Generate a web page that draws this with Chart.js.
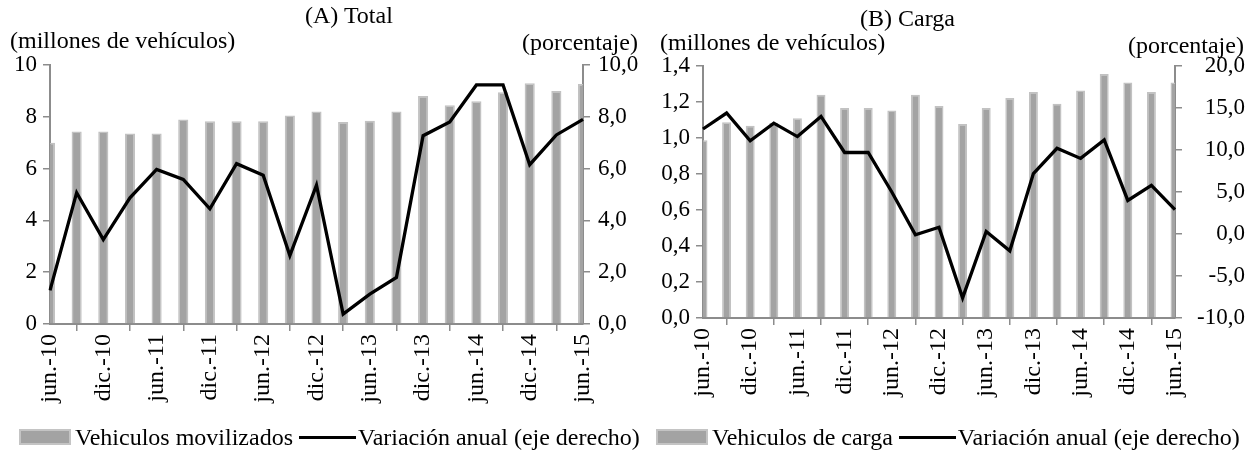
<!DOCTYPE html>
<html>
<head>
<meta charset="utf-8">
<script src="https://cdn.jsdelivr.net/npm/chart.js@4.4.1/dist/chart.umd.min.js"></script>
<style>
  body { margin: 0; background: #fff; font-family: "Liberation Serif", serif; }
  .panel { position: absolute; top: 0; height: 454px; }
  .txt { position: absolute; font-size: 24px; line-height: 24px; color: #000; white-space: nowrap; }
  .leg { position: absolute; top: 425px; font-size: 24px; line-height: 24px; white-space: nowrap; display: flex; align-items: center; }
  .box { display: inline-block; width: 52px; height: 16px; background: #a3a3a3; border: 2px solid #c4c4c4; box-sizing: border-box; margin-right: 4px; }
  .ln { display: inline-block; width: 57px; height: 3px; background: #000; margin: 0 2px 0 6px; }
</style>
</head>
<body>
<div class="panel" style="left:0;width:640px"><canvas id="g1" width="640" height="454"></canvas></div>
<div class="panel" style="left:640px;width:614px"><canvas id="g2" width="614" height="454"></canvas></div>

<div class="txt" style="left:305px;top:3px">(A) Total</div>
<div class="txt" style="left:10px;top:28px">(millones de vehículos)</div>
<div class="txt" style="left:522px;top:30px">(porcentaje)</div>
<div class="txt" style="left:860px;top:6px">(B) Carga</div>
<div class="txt" style="left:660px;top:30px">(millones de vehículos)</div>
<div class="txt" style="left:1128px;top:33px">(porcentaje)</div>

<div class="leg" style="left:19px"><span class="box"></span>Vehiculos movilizados<span class="ln"></span>Variación anual (eje derecho)</div>
<div class="leg" style="left:656px"><span class="box"></span>Vehiculos de carga<span class="ln"></span>Variación anual (eje derecho)</div>

<script>
// trimestres jun-10 .. jun-15
const trimestres = ['jun.-10','sep.-10','dic.-10','mar.-11','jun.-11','sep.-11','dic.-11','mar.-12','jun.-12','sep.-12','dic.-12','mar.-13','jun.-13','sep.-13','dic.-13','mar.-14','jun.-14','sep.-14','dic.-14','mar.-15','jun.-15'];

// (A) Total
const vehiculosTotal = [7.0, 7.43, 7.43, 7.36, 7.36, 7.9, 7.83, 7.83, 7.83, 8.05, 8.2, 7.8, 7.85, 8.2, 8.8, 8.45, 8.6, 8.95, 9.3, 9.0, 9.27];
const variacionTotal = [1.3, 5.07, 3.26, 4.87, 5.97, 5.58, 4.45, 6.19, 5.74, 2.64, 5.36, 0.38, 1.15, 1.8, 7.27, 7.8, 9.23, 9.23, 6.15, 7.3, 7.9];

// (B) Carga
const vehiculosCarga = [0.987, 1.087, 1.068, 1.083, 1.11, 1.24, 1.167, 1.167, 1.153, 1.24, 1.178, 1.078, 1.167, 1.222, 1.255, 1.19, 1.264, 1.355, 1.309, 1.255, 1.309];
const variacionCarga = [12.5, 14.4, 11.1, 13.2, 11.6, 14.0, 9.7, 9.7, 5.0, -0.1, 0.8, -7.6, 0.3, -2.0, 7.2, 10.2, 9.0, 11.2, 4.0, 5.8, 2.9];

const ejeGris = '#8c8c8c';
const fuente = { family: 'Liberation Serif', size: 23 };
const fuenteX = { family: 'Liberation Serif', size: 24 };
const coma = (d) => (v) => v.toFixed(d).replace('.', ',');

function grafico(id, barras, linea, izq, der, caja) {
  new Chart(document.getElementById(id), {
    data: {
      labels: trimestres,
      datasets: [
        { type: 'line', data: linea, yAxisID: 'y2', borderColor: '#000', borderWidth: 3.3,
          pointRadius: 0, tension: 0, order: 0 },
        { type: 'bar', data: barras, yAxisID: 'y', backgroundColor: '#a3a3a3', borderColor: '#c2c2c2',
          borderWidth: 1.5, barPercentage: 0.38, categoryPercentage: 1, order: 1 }
      ]
    },
    options: {
      responsive: false,
      animation: false,
      layout: { padding: { top: caja.top, bottom: caja.bottom, left: 0, right: caja.padR } },
      plugins: { legend: { display: false }, tooltip: { enabled: false } },
      scales: {
        x: {
          offset: false,
          border: { color: ejeGris, width: 2 },
          grid: { drawOnChartArea: false, color: ejeGris, tickLength: 7, lineWidth: 1.5 },
          ticks: {
            autoSkip: false, minRotation: 90, maxRotation: 90, color: '#000', font: fuenteX, padding: 3,
            callback: function (v, i) { return i % 2 === 0 ? this.getLabelForValue(v) : null; }
          },
          afterFit: (s) => { s.height = caja.xh; }
        },
        y: {
          position: 'left', min: izq.min, max: izq.max,
          border: { color: ejeGris, width: 2 },
          grid: { drawOnChartArea: false, color: ejeGris, tickLength: 7, lineWidth: 1.5 },
          ticks: { stepSize: izq.step, color: '#000', font: fuente, padding: 6, callback: coma(izq.dec) },
          afterFit: (s) => { s.width = caja.left; }
        },
        y2: {
          position: 'right', min: der.min, max: der.max,
          border: { color: ejeGris, width: 2 },
          grid: { drawOnChartArea: false, color: ejeGris, tickLength: 7, lineWidth: 1.5 },
          ticks: { stepSize: der.step, color: '#000', font: fuente, padding: der.pad, crossAlign: der.align,
            callback: coma(der.dec) },
          afterFit: (s) => { s.width = caja.right; }
        }
      }
    }
  });
}

grafico('g1', vehiculosTotal, variacionTotal,
  { min: 0, max: 10, step: 2, dec: 0 }, { min: 0, max: 10, step: 2, dec: 1, pad: 8, align: 'near' },
  { top: 65, bottom: 40, xh: 90, left: 50, right: 57, padR: 0 });

grafico('g2', vehiculosCarga, variacionCarga,
  { min: 0, max: 1.4, step: 0.2, dec: 1 }, { min: -10, max: 20, step: 5, dec: 1, pad: 3, align: 'far' },
  { top: 66, bottom: 40, xh: 96, left: 63, right: 70, padR: 9 });
</script>
</body>
</html>
